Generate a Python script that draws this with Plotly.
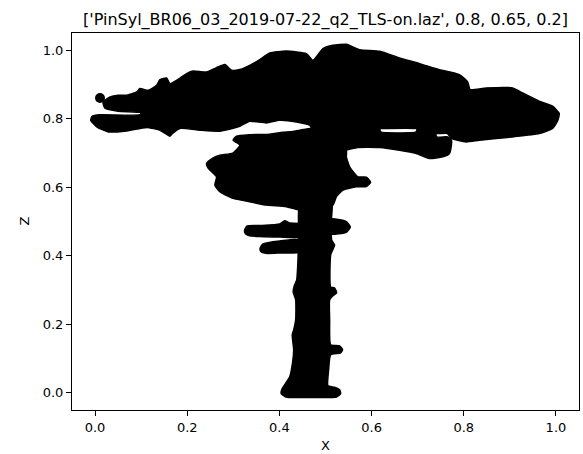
import plotly.graph_objects as go

# ---- data (normalised X / Z of the point cloud silhouette) ----
title_text = "['PinSyl_BR06_03_2019-07-22_q2_TLS-on.laz', 0.8, 0.65, 0.2]"
x_label = "X"
z_label = "Z"

crown_x = [-0.0093, -0.0065, 0.0108, 0.0975, 0.0996, 0.0498, 0.0217, 0.0173, 0.0325, 0.0505,
           0.0687, 0.0903, 0.0975, 0.1154, 0.1336, 0.1408, 0.1553, 0.1624, 0.1770, 0.1986,
           0.2129, 0.2419, 0.2636, 0.2816, 0.2961, 0.3141, 0.3357, 0.3574, 0.3790, 0.4152,
           0.4585, 0.4728, 0.4945, 0.5161, 0.5452, 0.5740, 0.6173, 0.6606, 0.7039, 0.7472,
           0.7905, 0.8085, 0.8137, 0.8484, 0.9060, 0.9277, 0.9493, 0.9638, 0.9926, 1.0071,
           1.0035, 0.9926, 0.9638, 0.9060, 0.8339, 0.8051, 0.7732, 0.7646, 0.7407, 0.6974,
           0.6173, 0.5523, 0.4728, 0.4657, 0.4369, 0.4007, 0.3719, 0.3357, 0.3104, 0.2707,
           0.2274, 0.1841, 0.1689, 0.1624, 0.1516, 0.1408, 0.1120, 0.0687, 0.0288, 0.0037]
crown_z = [0.7955, 0.8072, 0.8115, 0.8115, 0.8174, 0.8217, 0.8305, 0.8488, 0.8634, 0.8683,
           0.8683, 0.8780, 0.8878, 0.8829, 0.8975, 0.9141, 0.9187, 0.9024, 0.9120, 0.9315,
           0.9391, 0.9362, 0.9490, 0.9578, 0.9412, 0.9432, 0.9557, 0.9723, 0.9916, 0.9974,
           0.9898, 0.9703, 1.0044, 1.0140, 1.0169, 1.0015, 0.9965, 0.9770, 0.9607, 0.9432,
           0.9286, 0.9071, 0.8849, 0.8896, 0.8896, 0.8750, 0.8605, 0.8509, 0.8363, 0.8150,
           0.7935, 0.7714, 0.7568, 0.7469, 0.7373, 0.7323, 0.7422, 0.7568, 0.7568, 0.7714,
           0.7714, 0.7722, 0.7664, 0.7810, 0.7906, 0.7955, 0.7876, 0.7926, 0.7760, 0.7635,
           0.7664, 0.7714, 0.7577, 0.7489, 0.7577, 0.7664, 0.7743, 0.7643, 0.7614, 0.7760]

lobe_x = [0.4722, 0.6173, 0.6194, 0.6968, 0.6996, 0.7386, 0.7407, 0.7652, 0.7732, 0.7726,
          0.7689, 0.7544, 0.7256, 0.6968, 0.6606, 0.6173, 0.5696, 0.5436, 0.5090, 0.4722]
lobe_z = [0.7722, 0.7722, 0.7614, 0.7614, 0.7722, 0.7722, 0.7469, 0.7469, 0.7373, 0.7177,
          0.6985, 0.6886, 0.6840, 0.6985, 0.7081, 0.7160, 0.7160, 0.7081, 0.7081, 0.7373]

lower_x = [0.3069, 0.3357, 0.3790, 0.4072, 0.4245, 0.4440, 0.4722, 0.5090, 0.5452, 0.5452,
           0.5523, 0.5703, 0.5885, 0.5978, 0.5885, 0.5668, 0.5378, 0.5235, 0.5161, 0.4440,
           0.4152, 0.3719, 0.3357, 0.2995, 0.2707, 0.2599, 0.2636, 0.2454, 0.2419, 0.2556,
           0.2707, 0.2989, 0.3141, 0.2995]
lower_z = [0.7489, 0.7533, 0.7547, 0.7606, 0.7620, 0.7664, 0.7722, 0.7373, 0.7081, 0.6886,
           0.6595, 0.6304, 0.6295, 0.6149, 0.6018, 0.6012, 0.5916, 0.5721, 0.5479, 0.5334,
           0.5430, 0.5479, 0.5575, 0.5674, 0.5867, 0.6062, 0.6304, 0.6557, 0.6694, 0.6848,
           0.6936, 0.6994, 0.7227, 0.7373]

trunk_x = [0.4440, 0.5133, 0.5127, 0.5133, 0.5198, 0.5155, 0.5112, 0.5112, 0.5198, 0.5241,
           0.5155, 0.5090, 0.5090, 0.5112, 0.5306, 0.5371, 0.5328, 0.5112, 0.5068, 0.5053,
           0.5198, 0.5306, 0.5328, 0.5241, 0.4873, 0.4440, 0.4137, 0.4039, 0.4050, 0.4115,
           0.4224, 0.4288, 0.4310, 0.4278, 0.4310, 0.4353, 0.4353, 0.4299, 0.4321, 0.4375,
           0.4403, 0.4418]
trunk_z = [0.5479, 0.5625, 0.5042, 0.4460, 0.4314, 0.4168, 0.4023, 0.3091, 0.3061, 0.2916,
           0.2828, 0.2712, 0.2129, 0.1401, 0.1372, 0.1255, 0.1168, 0.1110, 0.0673, 0.0207,
           0.0163, 0.0090, -0.0026, -0.0122, -0.0137, -0.0137, -0.0122, -0.0026, 0.0090, 0.0236,
           0.0469, 0.0906, 0.1255, 0.1692, 0.1838, 0.2129, 0.2712, 0.2945, 0.3120, 0.3294,
           0.3877, 0.4751]

branch1_x = [0.3242, 0.3292, 0.3574, 0.4007, 0.4115, 0.4224, 0.4462, 0.4462, 0.4007, 0.3574, 0.3335, 0.3260]
branch1_z = [0.4731, 0.4868, 0.4882, 0.4926, 0.5022, 0.4955, 0.4926, 0.4547, 0.4547, 0.4562, 0.4591, 0.4649]

stub_x = [0.5112, 0.5452, 0.5538, 0.5458, 0.5112]
stub_z = [0.5071, 0.4999, 0.4838, 0.4693, 0.4634]

branch2_x = [0.3580, 0.3639, 0.4007, 0.4462, 0.4462, 0.4007, 0.3704, 0.3595]
branch2_z = [0.4218, 0.4343, 0.4431, 0.4460, 0.4110, 0.4081, 0.4072, 0.4125]

lone_x = [0.0108]
lone_z = [0.8605]

tick_vals = [0.0, 0.2, 0.4, 0.6, 0.8, 1.0]
tick_text = ["0.0", "0.2", "0.4", "0.6", "0.8", "1.0"]

# ---- figure ----
fig = go.Figure()
shapes = [(crown_x, crown_z), (lobe_x, lobe_z), (lower_x, lower_z), (trunk_x, trunk_z),
          (branch1_x, branch1_z), (stub_x, stub_z), (branch2_x, branch2_z)]
for xs, zs in shapes:
    fig.add_trace(go.Scatter(
        x=xs + xs[:1], y=zs + zs[:1], mode="lines", fill="toself",
        fillcolor="black", line=dict(color="black", width=1.5, shape="spline", smoothing=0.5),
        hoverinfo="skip", showlegend=False))
fig.add_trace(go.Scatter(x=lone_x, y=lone_z, mode="markers",
                         marker=dict(color="black", size=10), showlegend=False))

font_lbl = dict(family="DejaVu Sans", size=13, color="black")
axis_common = dict(
    range=[-0.05, 1.05], showgrid=False, zeroline=False, automargin=False,
    showline=True, mirror=True, linecolor="black", linewidth=1,
    ticks="outside", ticklen=5, tickwidth=1, tickcolor="black",
    tickvals=tick_vals, ticktext=tick_text, tickfont=font_lbl,
)
fig.update_xaxes(**axis_common)
fig.update_yaxes(**axis_common)

fig.add_annotation(text=x_label, xref="paper", yref="paper", x=0.5, y=0,
                   xanchor="center", yanchor="middle", yshift=-35, showarrow=False, font=font_lbl)
fig.add_annotation(text=z_label, xref="paper", yref="paper", x=0, y=0.5, textangle=-90,
                   xanchor="center", yanchor="middle", xshift=-48, showarrow=False, font=font_lbl)

fig.update_layout(
    width=583, height=454,
    margin=dict(l=72, r=4, t=33, b=44),
    paper_bgcolor="white", plot_bgcolor="white",
    title=dict(text=title_text, x=0.5, xref="paper", y=1 - 19 / 454, yref="container",
               xanchor="center", yanchor="middle", automargin=False,
               font=dict(family="DejaVu Sans", size=16, color="black")),
    showlegend=False,
)

fig.write_html("out.html", config={"displayModeBar": False},
               post_script="document.body.style.margin='0';document.body.style.overflow='hidden';")
